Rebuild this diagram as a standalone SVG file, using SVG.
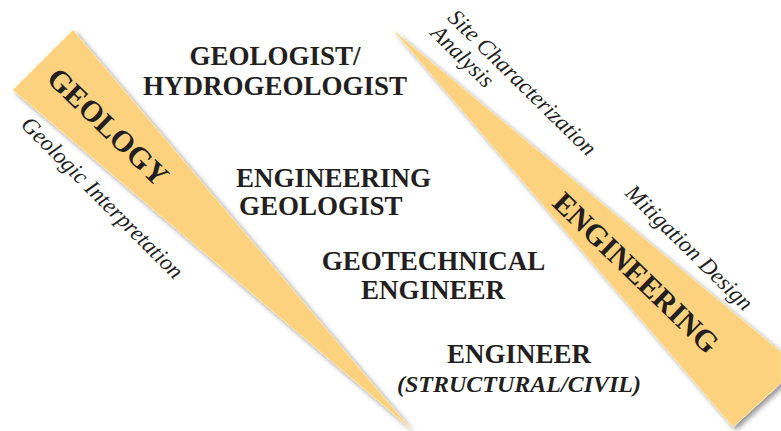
<svg xmlns="http://www.w3.org/2000/svg" width="781" height="431" viewBox="0 0 781 431">
<defs>
<filter id="shadow" x="-10%" y="-10%" width="130%" height="130%">
<feDropShadow dx="3" dy="3" stdDeviation="2.5" flood-color="#000" flood-opacity="0.4"/>
</filter>
<style>
.wedge{fill:#fdd27e;stroke:#fde3a6;stroke-width:1;filter:url(#shadow)}
.t{font-family:"Liberation Serif","Times New Roman",serif;fill:#231f20}
.b{font-weight:bold;font-size:27px;text-anchor:middle}
.bi{font-weight:bold;font-style:italic;font-size:24px;text-anchor:middle}
.band{font-weight:bold;font-size:30px;text-anchor:middle}
.it{font-style:italic;font-size:23px}
</style>
</defs>
<rect width="781" height="431" fill="#ffffff"/>
<g id="geology-wedge">
<polygon class="wedge" points="73,30 13,90 410,428"/>
<text class="t band" transform="translate(101,134) rotate(44)">GEOLOGY</text>
<text class="t it" text-anchor="middle" transform="translate(97,203) rotate(45)">Geologic Interpretation</text>
</g>
<g id="engineering-wedge">
<polygon class="wedge" points="394,31 781,352 781,383 733,427"/>
<text class="t band" transform="translate(629,280) rotate(44)">ENGINEERING</text>
<g transform="translate(517,88) rotate(44.5)">
<text class="t it" text-anchor="middle" x="0" y="0">Site Characterization</text>
<text class="t it" text-anchor="start" x="-100" y="23">Analysis</text>
</g>
<text class="t it" text-anchor="middle" transform="translate(684,253) rotate(44.5)">Mitigation Design</text>
</g>
<g id="geologist">
<text class="t b" x="275" y="65">GEOLOGIST/</text>
<text class="t b" x="275" y="95">HYDROGEOLOGIST</text>
</g>
<g id="engineering-geologist">
<text class="t b" x="236" y="187" style="text-anchor:start">ENGINEERING</text>
<text class="t b" x="239" y="215" style="text-anchor:start">GEOLOGIST</text>
</g>
<g id="geotechnical-engineer">
<text class="t b" x="433.5" y="270">GEOTECHNICAL</text>
<text class="t b" x="433" y="299">ENGINEER</text>
</g>
<g id="engineer">
<text class="t b" x="519" y="363">ENGINEER</text>
<text class="t bi" x="519" y="392">(STRUCTURAL/CIVIL)</text>
</g>
<g id="connectors"></g>
</svg>
